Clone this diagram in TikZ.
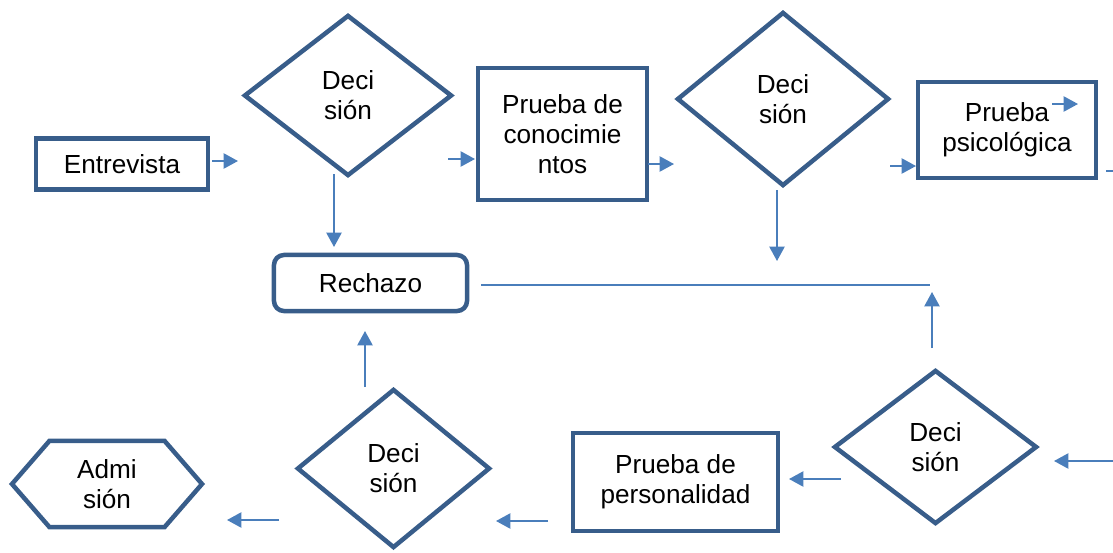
\documentclass[tikz,border=0pt]{standalone}
\usepackage{fontspec}
\setmainfont{Liberation Sans}
\usetikzlibrary{arrows.meta,shapes.geometric,shapes.symbols}
\definecolor{borde}{HTML}{385D8A}
\definecolor{flecha}{HTML}{4A7EBB}
\tikzset{
  caja/.style={draw=borde, line width=3.2pt, rectangle, align=center, inner sep=0pt},
  cajar/.style={caja, rounded corners=0.25cm},
  rombo/.style={draw=borde, line width=3.2pt, diamond, align=center, inner sep=0pt},
  hexa/.style={draw=borde, line width=3.2pt, signal, signal to=west and east,
    signal pointer angle=98, align=center, inner sep=0pt},
  flec/.style={draw=flecha, line width=1.3pt, -{Triangle[length=0.36cm,width=0.38cm]}},
  linea/.style={draw=flecha, line width=1.3pt}
}

\begin{document}
\begin{tikzpicture}[x=0.025cm, y=-0.025cm, font=\fontsize{18.6pt}{21.5pt}\selectfont]

    \useasboundingbox (0,0) rectangle (1113,553);

    % fila de arriba
    \node[caja, minimum width=4.3cm, minimum height=1.275cm] (ent) at (122,164) {Entrevista};
    \node[rombo, minimum width=5.2cm, minimum height=4.025cm] (dec1) at (348,95.5) {Deci\\sión};
    \node[caja, minimum width=4.225cm, minimum height=3.3cm] (conoc) at (562.5,134) {Prueba de\\conocimie\\ntos};
    \node[rombo, minimum width=5.3cm, minimum height=4.35cm] (dec2) at (783,99) {Deci\\sión};
    \node[caja, minimum width=4.45cm, minimum height=2.4cm] (psico) at (1007,130) {Prueba\\psicológica};

    \node[cajar, minimum width=4.825cm, minimum height=1.4cm] (rech) at (370.5,283) {Rechazo};

    % fila de abajo
    \node[hexa, minimum width=4.75cm, minimum height=2.15cm] (adm) at (107,484) {Admi\\sión};
    \node[rombo, minimum width=4.825cm, minimum height=3.975cm] (dec4) at (393.5,468.5) {Deci\\sión};
    \node[caja, minimum width=5.125cm, minimum height=2.45cm] (perso) at (675.5,482) {Prueba de\\personalidad};
    \node[rombo, minimum width=5.075cm, minimum height=3.85cm] (dec3) at (935.5,447) {Deci\\sión};

    % extremos de las flechas
    \coordinate (a1) at (212,161);  \coordinate (b1) at (238,161);
    \coordinate (a2) at (334,174);  \coordinate (b2) at (334,247);
    \coordinate (a3) at (448,159);  \coordinate (b3) at (475,159);
    \coordinate (a4) at (648,164);  \coordinate (b4) at (674,164);
    \coordinate (a5) at (777,190);  \coordinate (b5) at (777,261);
    \coordinate (a6) at (890,166);  \coordinate (b6) at (916,166);
    \coordinate (a7) at (1052,104); \coordinate (b7) at (1078,104);
    \coordinate (a8) at (1106,171); \coordinate (b8) at (1113,171);
    \coordinate (a9) at (481,285);  \coordinate (b9) at (930,285);
    \coordinate (a10) at (932,348); \coordinate (b10) at (932,292);
    \coordinate (a11) at (1113,461); \coordinate (b11) at (1054,461);
    \coordinate (a12) at (841,479); \coordinate (b12) at (789,479);
    \coordinate (a13) at (548,521); \coordinate (b13) at (496,521);
    \coordinate (a14) at (365,387); \coordinate (b14) at (365,331);
    \coordinate (a15) at (279,520); \coordinate (b15) at (227,520);

    \draw[flec] (a1) -- (b1);
    \draw[flec] (a2) -- (b2);
    \draw[flec] (a3) -- (b3);
    \draw[flec] (a4) -- (b4);
    \draw[flec] (a5) -- (b5);
    \draw[flec] (a6) -- (b6);
    \draw[flec] (a7) -- (b7);
    \draw[linea] (a8) -- (b8);
    \draw[linea] (a9) -- (b9);
    \draw[flec] (a10) -- (b10);
    \draw[flec] (a11) -- (b11);
    \draw[flec] (a12) -- (b12);
    \draw[flec] (a13) -- (b13);
    \draw[flec] (a14) -- (b14);
    \draw[flec] (a15) -- (b15);

\end{tikzpicture}
\end{document}
